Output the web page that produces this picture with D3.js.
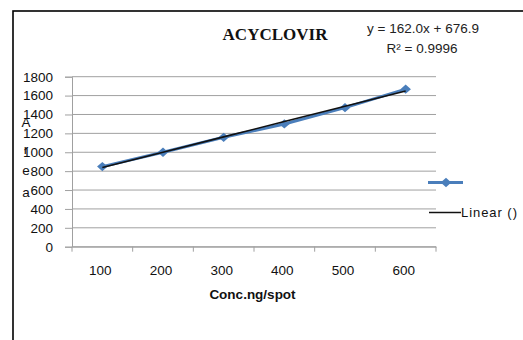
<!DOCTYPE html>
<html>
<head>
<meta charset="utf-8">
<script src="https://cdn.jsdelivr.net/npm/d3@7"></script>
<style>
  html, body { margin: 0; padding: 0; background: #fff; }
  svg { display: block; }
</style>
</head>
<body>
<svg id="chart" width="523" height="340"></svg>
<script>
// Calibration data: concentration (ng/spot) vs peak area
const concentrations = ["100", "200", "300", "400", "500", "600"];
const areaValues = [848, 1000, 1158, 1300, 1472, 1668];
const yTicks = [0, 200, 400, 600, 800, 1000, 1200, 1400, 1600, 1800];
const trendSlope = 162.0;
const trendIntercept = 676.9;
const rSquared = 0.9996;
const chartTitle = "ACYCLOVIR";
const xTitle = "Conc.ng/spot";
const yTitle = "Area";
const legendSeries = "";
const legendTrend = "Linear ()";

const svg = d3.select("#chart");
const labelFont = "'Liberation Sans', Arial, sans-serif";

// Outer chart frame
svg.append("rect")
  .attr("x", 13).attr("y", 11)
  .attr("width", 530).attr("height", 360)
  .attr("fill", "#fff").attr("stroke", "#000").attr("stroke-width", 1.6);

const plot = { left: 72, right: 436, top: 76.7, bottom: 246.7 };

const x = d3.scaleBand().domain(concentrations).range([plot.left, plot.right]);
const y = d3.scaleLinear().domain([0, 1800]).range([plot.bottom, plot.top]);

// Horizontal gridlines
svg.append("g").selectAll("line").data(yTicks).join("line")
  .attr("x1", plot.left).attr("x2", plot.right)
  .attr("y1", d => y(d)).attr("y2", d => y(d))
  .attr("stroke", "#a0a0a0").attr("stroke-width", 1);

// Y axis
const yAxis = svg.append("g")
  .attr("transform", `translate(${plot.left},0)`)
  .call(d3.axisLeft(y).tickValues(yTicks).tickSize(7).tickPadding(12).tickFormat(d3.format("d")));
yAxis.select(".domain").attr("stroke", "#a0a0a0");
yAxis.selectAll(".tick line").attr("stroke", "#a0a0a0");
yAxis.selectAll("text")
  .attr("font-family", labelFont).attr("font-size", 13.5).attr("fill", "#111");

// X axis with ticks at category boundaries
const xAxis = svg.append("g")
  .attr("transform", `translate(0,${plot.bottom})`)
  .call(d3.axisBottom(x).tickSize(0).tickPadding(19));
xAxis.select(".domain").attr("stroke", "#a0a0a0");
xAxis.selectAll("text")
  .attr("font-family", labelFont).attr("font-size", 13.5).attr("fill", "#111")
  .attr("dx", -2);
const boundaries = concentrations.map(c => x(c)).concat([x(concentrations[concentrations.length - 1]) + x.bandwidth()]);
svg.append("g").selectAll("line").data(boundaries).join("line")
  .attr("x1", d => d).attr("x2", d => d)
  .attr("y1", plot.bottom).attr("y2", plot.bottom + 5)
  .attr("stroke", "#a0a0a0");

const cx = c => x(c) + x.bandwidth() / 2;

// Data series
const seriesColor = "#4a7ebb";
const line = d3.line().x((d, i) => cx(concentrations[i])).y(d => y(d));
svg.append("path").datum(areaValues)
  .attr("d", line).attr("fill", "none")
  .attr("stroke", seriesColor).attr("stroke-width", 3);

// Diamond markers: a rotated square, slightly widened
const marker = d3.symbol().type(d3.symbolSquare).size(44);
const markerTransform = (px, py) => `translate(${px},${py}) scale(1.12,1) rotate(45)`;
svg.append("g").selectAll("path").data(areaValues).join("path")
  .attr("d", marker)
  .attr("transform", (d, i) => markerTransform(cx(concentrations[i]), y(d)))
  .attr("fill", seriesColor);

// Linear trendline from the fitted equation (x = category index)
const trend = concentrations.map((c, i) => trendSlope * (i + 1) + trendIntercept);
svg.append("path").datum(trend)
  .attr("d", line).attr("fill", "none")
  .attr("stroke", "#111").attr("stroke-width", 1.6);

// Title
svg.append("text")
  .attr("x", 275).attr("y", 39.5).attr("text-anchor", "middle")
  .attr("font-family", "'Liberation Serif', 'Times New Roman', serif")
  .attr("font-weight", "bold").attr("font-size", 17)
  .attr("fill", "#111").text(chartTitle);

// Trendline equation
const eq = svg.append("text")
  .attr("font-family", labelFont).attr("font-size", 13.5).attr("fill", "#222")
  .attr("text-anchor", "middle");
eq.append("tspan").attr("x", 423).attr("y", 32.5)
  .text(`y = ${trendSlope.toFixed(1)}x + ${trendIntercept.toFixed(1)}`);
eq.append("tspan").attr("x", 422).attr("y", 52.5)
  .text(`R² = ${rSquared.toFixed(4)}`);

// Axis titles
svg.append("text")
  .attr("x", 252.5).attr("y", 299).attr("text-anchor", "middle")
  .attr("font-family", labelFont).attr("font-weight", "bold").attr("font-size", 13.5)
  .attr("fill", "#111").text(xTitle);

// Stacked vertical y-axis title
const yTitleOffsets = [127, 154, 175, 197];
svg.append("g").selectAll("text").data(yTitle.split("")).join("text")
  .attr("x", 26).attr("y", (d, i) => yTitleOffsets[i])
  .attr("text-anchor", "middle")
  .attr("font-family", labelFont).attr("font-size", 13.5).attr("fill", "#111")
  .text(d => d);

// Legend
const legend = svg.append("g");
legend.append("line")
  .attr("x1", 428).attr("x2", 463).attr("y1", 182.5).attr("y2", 182.5)
  .attr("stroke", seriesColor).attr("stroke-width", 3);
legend.append("path")
  .attr("d", marker)
  .attr("transform", markerTransform(446, 182.5))
  .attr("fill", seriesColor);
legend.append("text")
  .attr("x", 466).attr("y", 187).attr("font-family", labelFont)
  .attr("font-size", 13).attr("fill", "#111").text(legendSeries);
legend.append("line")
  .attr("x1", 429).attr("x2", 461).attr("y1", 212.5).attr("y2", 212.5)
  .attr("stroke", "#111").attr("stroke-width", 1.5);
legend.append("text")
  .attr("x", 461).attr("y", 217).attr("font-family", labelFont)
  .attr("font-size", 13).attr("fill", "#111").attr("textLength", 56)
  .text(legendTrend);
</script>
</body>
</html>
